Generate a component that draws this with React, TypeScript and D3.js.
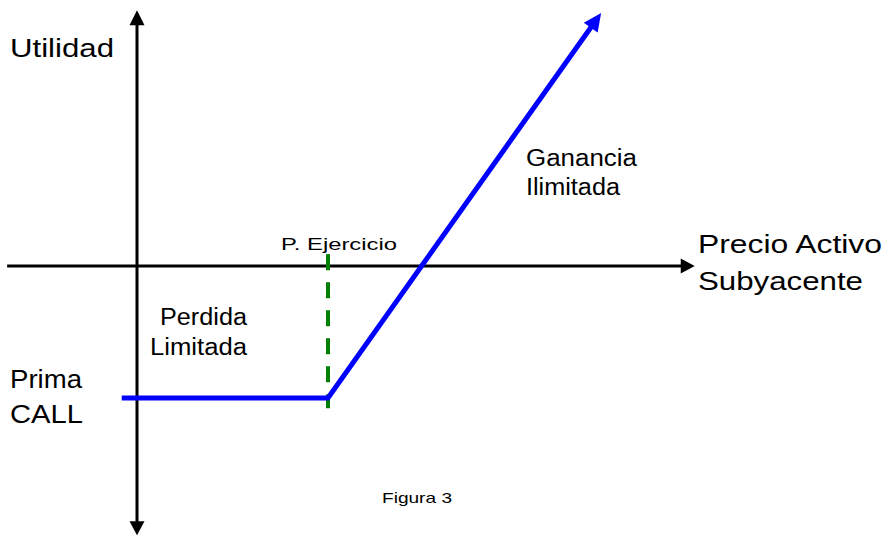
import React from "react";
import * as d3 from "d3";

// Payoff of a long call (abstract units)
const payoffPrices = [-4, 50, 121.5];
const payoffProfits = [-24.5, -24.5, 47];
const strikePrice = 50;
const strikeLineProfits = [2.2, -26.4];
const priceAxisRange = [-34, 146];
const profitAxisRange = [-50, 47.5];

const yLabel = "Utilidad";
const xLabelLines = ["Precio Activo", "Subyacente"];
const premiumLines = ["Prima", "CALL"];
const lossLines = ["Perdida", "Limitada"];
const gainLines = ["Ganancia", "Ilimitada"];
const strikeLabel = "P. Ejercicio";
const figureLabel = "Figura 3";

const W = 887;
const H = 536;

export default function App() {
  const x = d3.scaleLinear().domain([0, 100]).range([137, 519]);
  const y = d3.scaleLinear().domain([0, 10]).range([266, 266 - 53.85]);

  const pts: [number, number][] = payoffPrices.map((p, i) => [x(p), y(payoffProfits[i])]);
  const tip = pts[pts.length - 1];
  const prev = pts[pts.length - 2];
  const ang = Math.atan2(tip[1] - prev[1], tip[0] - prev[0]);
  const headLen = 18;
  const headHalf = 8.5;
  const lineEnd: [number, number] = [tip[0] - Math.cos(ang) * (headLen - 2), tip[1] - Math.sin(ang) * (headLen - 2)];
  const linePts = [...pts.slice(0, -1), lineEnd];
  const line = d3.line<[number, number]>().x((d) => d[0]).y((d) => d[1]);

  const head = (t: [number, number], a: number, len: number, half: number) => {
    const bx = t[0] - Math.cos(a) * len;
    const by = t[1] - Math.sin(a) * len;
    const px = -Math.sin(a) * half;
    const py = Math.cos(a) * half;
    return `${t[0]},${t[1]} ${bx + px},${by + py} ${bx - px},${by - py}`;
  };

  const x0 = x(0);
  const y0 = y(0);
  const xa0 = x(priceAxisRange[0]);
  const xa1 = x(priceAxisRange[1]);
  const ya0 = y(profitAxisRange[0]);
  const ya1 = y(profitAxisRange[1]);
  const font = "'Liberation Sans', Arial, sans-serif";

  return (
    <svg width={W} height={H} style={{ position: "absolute", left: 0, top: 0, background: "#fff" }} fontFamily={font}>
      {/* axes */}
      <line x1={xa0} y1={y0} x2={xa1 - 12} y2={y0} stroke="#000" strokeWidth={3} />
      <polygon points={head([xa1, y0], 0, 14, 7.5)} fill="#000" />
      <line x1={x0} y1={ya1 + 12} x2={x0} y2={ya0 - 12} stroke="#000" strokeWidth={3} />
      <polygon points={head([x0, ya1], -Math.PI / 2, 15, 7.5)} fill="#000" />
      <polygon points={head([x0, ya0], Math.PI / 2, 14, 7.5)} fill="#000" />

      {/* strike line */}
      <line
        x1={x(strikePrice)}
        y1={y(strikeLineProfits[0])}
        x2={x(strikePrice)}
        y2={y(strikeLineProfits[1])}
        stroke="#008000"
        strokeWidth={4}
        strokeDasharray="16 12"
      />

      {/* payoff */}
      <path d={line(linePts) || ""} fill="none" stroke="#0000ff" strokeWidth={5} strokeLinejoin="miter" />
      <polygon points={head(tip, ang, headLen, headHalf)} fill="#0000ff" />

      {/* labels */}
      <text x={10} y={57} fontSize={26} textLength={104} lengthAdjust="spacingAndGlyphs">{yLabel}</text>
      <text x={698} y={253} fontSize={26} textLength={184} lengthAdjust="spacingAndGlyphs">{xLabelLines[0]}</text>
      <text x={698} y={290} fontSize={26} textLength={165} lengthAdjust="spacingAndGlyphs">{xLabelLines[1]}</text>
      <text x={10} y={388} fontSize={25} textLength={72} lengthAdjust="spacingAndGlyphs">{premiumLines[0]}</text>
      <text x={10} y={423} fontSize={25} textLength={73} lengthAdjust="spacingAndGlyphs">{premiumLines[1]}</text>
      <text x={160} y={325} fontSize={23} textLength={87} lengthAdjust="spacingAndGlyphs">{lossLines[0]}</text>
      <text x={150} y={355} fontSize={23} textLength={97} lengthAdjust="spacingAndGlyphs">{lossLines[1]}</text>
      <text x={526} y={166} fontSize={23} textLength={111} lengthAdjust="spacingAndGlyphs">{gainLines[0]}</text>
      <text x={526} y={195} fontSize={23} textLength={94} lengthAdjust="spacingAndGlyphs">{gainLines[1]}</text>
      <text x={281} y={250} fontSize={16} textLength={116} lengthAdjust="spacingAndGlyphs">{strikeLabel}</text>
      <text x={382} y={503} fontSize={15} textLength={70} lengthAdjust="spacingAndGlyphs">{figureLabel}</text>
    </svg>
  );
}
